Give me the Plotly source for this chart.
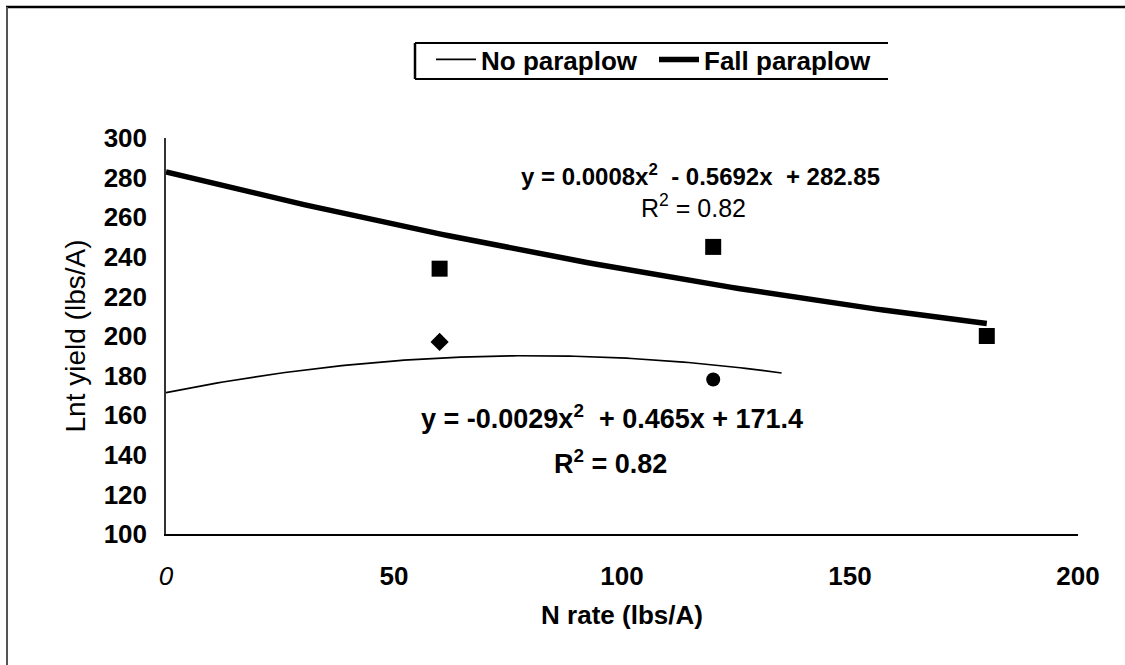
import numpy as np
import plotly.graph_objects as go

# ---- data ----
fall_x = [60, 120, 180]
fall_y = [234, 245, 200]
no_x = [60, 120]
no_y = [197, 178]
no_symbols = ["diamond", "circle"]

# trendline coefficients (as printed on the chart) and x extent
fall_coef = [0.0008, -0.5692, 282.85]
fall_range = [0, 180]
no_coef = [-0.0029, 0.465, 171.4]
no_range = [0, 135]

x_ticks = [0, 50, 100, 150, 200]
x_ticktext = ["<i>0</i>", "<b>50</b>", "<b>100</b>", "<b>150</b>", "<b>200</b>"]
y_ticks = [100, 120, 140, 160, 180, 200, 220, 240, 260, 280, 300]

FONT = "Liberation Sans, Arial, sans-serif"

# layout in pixels
W, H = 1125, 665
L, R, T, B = 166, 47, 138, 131
PW, PH = W - L - R, H - T - B


def px2x(px):
    return (px - L) / PW


def py2y(py):
    return (H - B - py) / PH


fig = go.Figure()

xf = np.linspace(fall_range[0], fall_range[1], 120)
xn = np.linspace(no_range[0], no_range[1], 120)

fig.add_trace(go.Scatter(x=xn, y=np.polyval(no_coef, xn), mode="lines",
                         line=dict(color="black", width=1.7), name="No paraplow"))
fig.add_trace(go.Scatter(x=xf, y=np.polyval(fall_coef, xf), mode="lines",
                         line=dict(color="black", width=5.5), name="Fall paraplow"))
fig.add_trace(go.Scatter(x=fall_x, y=fall_y, mode="markers", showlegend=False,
                         marker=dict(symbol="square", size=16, color="black")))
fig.add_trace(go.Scatter(x=no_x, y=no_y, mode="markers", showlegend=False,
                         marker=dict(symbol=no_symbols, size=14, color="black")))

annots = [
    dict(text="<b>y = 0.0008x<sup>2</sup>  - 0.5692x  + 282.85</b>", px=700, py=175, size=24),
    dict(text="R<sup>2</sup> = 0.82", px=693, py=206, size=25),
    dict(text="<b>y = -0.0029x<sup>2</sup>  + 0.465x + 171.4</b>", px=612, py=417, size=27),
    dict(text="<b>R<sup>2</sup> = 0.82</b>", px=610, py=462, size=27),
]
for a in annots:
    fig.add_annotation(x=px2x(a["px"]), y=py2y(a["py"]), xref="paper", yref="paper",
                       text=a["text"], showarrow=False, xanchor="center", yanchor="middle",
                       font=dict(family=FONT, size=a["size"], color="black"))

# legend frame (top, left, bottom) and outer frame (top, left)
lx0, lx1, ly0, ly1 = 415, 888, 43, 79
shapes = [
    dict(x0=px2x(lx0), x1=px2x(lx1), y0=py2y(ly0), y1=py2y(ly0), width=2, color="black"),
    dict(x0=px2x(lx0), x1=px2x(lx0), y0=py2y(ly0), y1=py2y(ly1), width=2.5, color="black"),
    dict(x0=px2x(lx0), x1=px2x(lx1), y0=py2y(ly1), y1=py2y(ly1), width=2, color="black"),
    dict(x0=px2x(6), x1=px2x(1125), y0=py2y(7), y1=py2y(7), width=2.5, color="black"),
    dict(x0=px2x(7), x1=px2x(7), y0=py2y(7), y1=py2y(665), width=2, color="#555555"),
]
for s in shapes:
    fig.add_shape(type="line", xref="paper", yref="paper", x0=s["x0"], x1=s["x1"],
                  y0=s["y0"], y1=s["y1"], line=dict(color=s["color"], width=s["width"]))

fig.update_layout(
    width=W, height=H,
    margin=dict(l=L, r=R, t=T, b=B, autoexpand=False),
    paper_bgcolor="white", plot_bgcolor="white",
    font=dict(family=FONT, color="black"),
    legend=dict(orientation="h", x=px2x(431), y=py2y(36), xanchor="left", yanchor="top",
                font=dict(family=FONT, size=26, color="black", weight="bold"),
                bgcolor="rgba(0,0,0,0)", borderwidth=0, itemwidth=40, tracegroupgap=0,
                entrywidth=168, entrywidthmode="pixels"),
    xaxis=dict(range=[0, 200], tickvals=x_ticks, ticktext=x_ticktext, showgrid=False,
               zeroline=False, showline=True, linecolor="black", linewidth=1.5,
               ticks="", ticklabelstandoff=18,
               tickfont=dict(family=FONT, size=26, color="black"),
               title=dict(text="<b>N rate (lbs/A)</b>", standoff=16,
                          font=dict(family=FONT, size=26, color="black"))),
    yaxis=dict(range=[100, 300], tickvals=y_ticks, showgrid=False, zeroline=False,
               showline=True, linecolor="#333333", linewidth=1.5, ticks="",
               ticklabelstandoff=12,
               tickfont=dict(family=FONT, size=26, color="black", weight="bold"),
               title=dict(text="Lnt yield (lbs/A)", standoff=10,
                          font=dict(family=FONT, size=28, color="black"))),
)

fig.write_html("out.html", config={"displayModeBar": False},
               post_script="document.body.style.margin='0';")
